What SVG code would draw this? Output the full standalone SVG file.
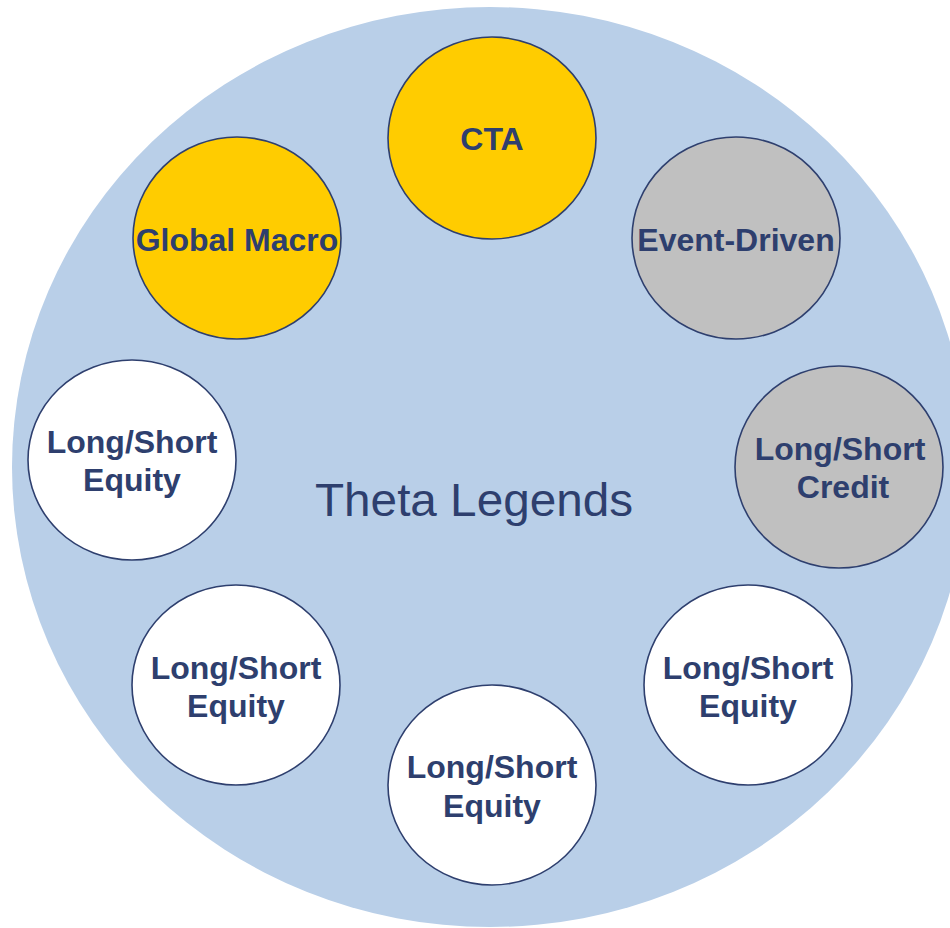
<svg xmlns="http://www.w3.org/2000/svg" width="950" height="928" viewBox="0 0 950 928">
<style>
.node{stroke:#2E3F6E;stroke-width:1.6}
.y{fill:#FFCC00}.g{fill:#C0C0C0}.w{fill:#FFFFFF}
.lbl{font-family:"Liberation Sans",Arial,sans-serif;font-weight:bold;font-size:32px;fill:#2E3F6E;text-anchor:middle}
.title{font-family:"Liberation Sans",Arial,sans-serif;font-size:46px;fill:#2E3F6E}
</style>
<rect width="950" height="928" fill="#FFFFFF"/>
<g id="background">
<ellipse cx="490" cy="467" rx="478" ry="460" fill="#B9CFE8"/>
<text class="title" x="315" y="516" textLength="318" lengthAdjust="spacingAndGlyphs">Theta Legends</text>
</g>
<g id="connectors"></g>
<g id="cta">
<ellipse class="node y" cx="492" cy="138" rx="104" ry="101"/>
<text class="lbl" x="492" y="150">CTA</text>
</g>
<g id="global-macro">
<ellipse class="node y" cx="237" cy="238" rx="104" ry="101"/>
<text class="lbl" x="237" y="251">Global Macro</text>
</g>
<g id="event-driven">
<ellipse class="node g" cx="736" cy="238" rx="104" ry="101"/>
<text class="lbl" x="736" y="251">Event-Driven</text>
</g>
<g id="ls-credit">
<ellipse class="node g" cx="839" cy="467" rx="104" ry="101"/>
<text class="lbl" x="840" y="460">Long/Short</text>
<text class="lbl" x="843" y="498">Credit</text>
</g>
<g id="ls-equity-left">
<ellipse class="node w" cx="132" cy="460" rx="104" ry="100"/>
<text class="lbl" x="132" y="453">Long/Short</text>
<text class="lbl" x="132" y="491">Equity</text>
</g>
<g id="ls-equity-lower-left">
<ellipse class="node w" cx="236" cy="685" rx="104" ry="100"/>
<text class="lbl" x="236" y="679">Long/Short</text>
<text class="lbl" x="236" y="717">Equity</text>
</g>
<g id="ls-equity-bottom">
<ellipse class="node w" cx="492" cy="785" rx="104" ry="100"/>
<text class="lbl" x="492" y="778">Long/Short</text>
<text class="lbl" x="492" y="817">Equity</text>
</g>
<g id="ls-equity-lower-right">
<ellipse class="node w" cx="748" cy="685" rx="104" ry="100"/>
<text class="lbl" x="748" y="679">Long/Short</text>
<text class="lbl" x="748" y="717">Equity</text>
</g>
</svg>
